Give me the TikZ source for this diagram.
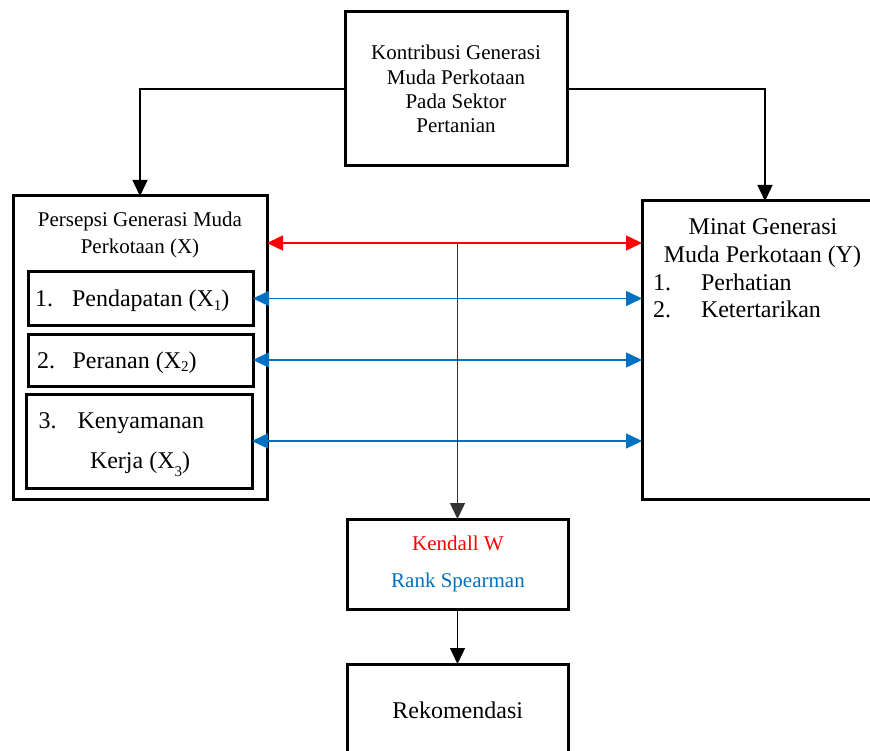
\documentclass[tikz,border=0pt]{standalone}
\usepackage{fontspec}
\setmainfont{Liberation Serif}
\usetikzlibrary{arrows.meta}
\definecolor{myred}{RGB}{255,0,0}
\definecolor{myblue}{RGB}{0,112,192}
\newcommand{\subx}[2]{\raisebox{#1}{\fontsize{15}{15}\selectfont #2}}
\begin{document}
\begin{tikzpicture}[x=1pt,y=-1pt,
  box/.style={draw, line width=3pt, inner sep=0pt, outer sep=0pt},
  txt/.style={inner sep=0pt, outer sep=0pt, anchor=base},
  txtl/.style={inner sep=0pt, outer sep=0pt, anchor=base west},
  fa/.style={font=\fontsize{21}{24}\selectfont},
  fb/.style={font=\fontsize{24}{27}\selectfont},
  conn/.style={line width=1.5pt, -{Triangle[length=16pt,width=15pt]}},
  dbl/.style={line width=1.5pt, {Triangle[length=16pt,width=15pt]}-{Triangle[length=16pt,width=15pt]}}]
\useasboundingbox (0,0) rectangle (870,751);
\clip (0,0) rectangle (870,751);
% boxes
\node[box, minimum width=222pt, minimum height=154pt] (top) at (456,89) {};
\node[box, minimum width=254pt, minimum height=303pt] (outer) at (140,347.5) {};
\node[box, minimum width=225pt, minimum height=53pt] (b1) at (140.5,298.5) {};
\node[box, minimum width=225pt, minimum height=52pt] (b2) at (140.5,360) {};
\node[box, minimum width=226pt, minimum height=94pt] (b3) at (139,441) {};
\node[box, minimum width=246pt, minimum height=298pt] (right) at (765,350) {};
\node[box, minimum width=221pt, minimum height=90pt] (kend) at (457.5,564) {};
\node[box, minimum width=221pt, minimum height=106pt] (rek) at (457.5,717) {};
% texts top
\node[txt, fa] (t1) at (456,60) {Kontribusi Generasi};
\node[txt, fa] (t2) at (456,84.3) {Muda Perkotaan};
\node[txt, fa] (t3) at (456,108.6) {Pada Sektor};
\node[txt, fa] (t4) at (456,133) {Pertanian};
% left title
\node[txt, fa] (l1) at (140,227) {Persepsi Generasi Muda};
\node[txt, fa] (l2) at (140,254) {Perkotaan (X)};
% items
\node[txtl, fb] (n1) at (35,307) {1.};
\node[txtl, fb] (i1) at (72,307) {Pendapatan (X\subx{-3pt}{1})};
\node[txtl, fb] (n2) at (37,368) {2.};
\node[txtl, fb] (i2) at (72.5,368) {Peranan (X\subx{-3pt}{2})};
\node[txtl, fb] (n3) at (38.5,428) {3.};
\node[txtl, fb] (i3) at (77.5,428) {Kenyamanan};
\node[txtl, fb] (i3b) at (90,468) {Kerja (X\subx{-8pt}{3})};
% right box texts
\node[txt, fb] (r1) at (763,235) {Minat Generasi};
\node[txt, fb] (r2) at (762.5,262.7) {Muda Perkotaan (Y)};
\node[txtl, fb] (rn1) at (653,290.7) {1.};
\node[txtl, fb] (ri1) at (701,290.7) {Perhatian};
\node[txtl, fb] (rn2) at (653,317.7) {2.};
\node[txtl, fb] (ri2) at (701,317.7) {Ketertarikan};
% kendall
\node[txt, fa, text=myred] (k1) at (458,550.7) {Kendall W};
\node[txt, fa, text=myblue] (k2) at (458,587) {Rank Spearman};
\node[txt, fb] (rk) at (457.7,718) {Rekomendasi};
% connectors
\draw[conn] (top.west) -| (outer.north);
\draw[conn] (top.east) -| (right.north);
\coordinate (ry) at (0,243);
\draw[dbl, myred] (outer.east |- ry) -- (right.west |- ry);
\draw[dbl, myblue] (b1.east) -- (right.west |- b1.east);
\draw[dbl, myblue] (b2.east) -- (right.west |- b2.east);
\draw[dbl, myblue] (b3.east) -- (right.west |- b3.east);
\coordinate (jn) at (kend.north |- ry);
\draw[conn, black!80] (jn) -- (kend.north);
\draw[conn] (kend.south) -- (rek.north);
\end{tikzpicture}
\end{document}
